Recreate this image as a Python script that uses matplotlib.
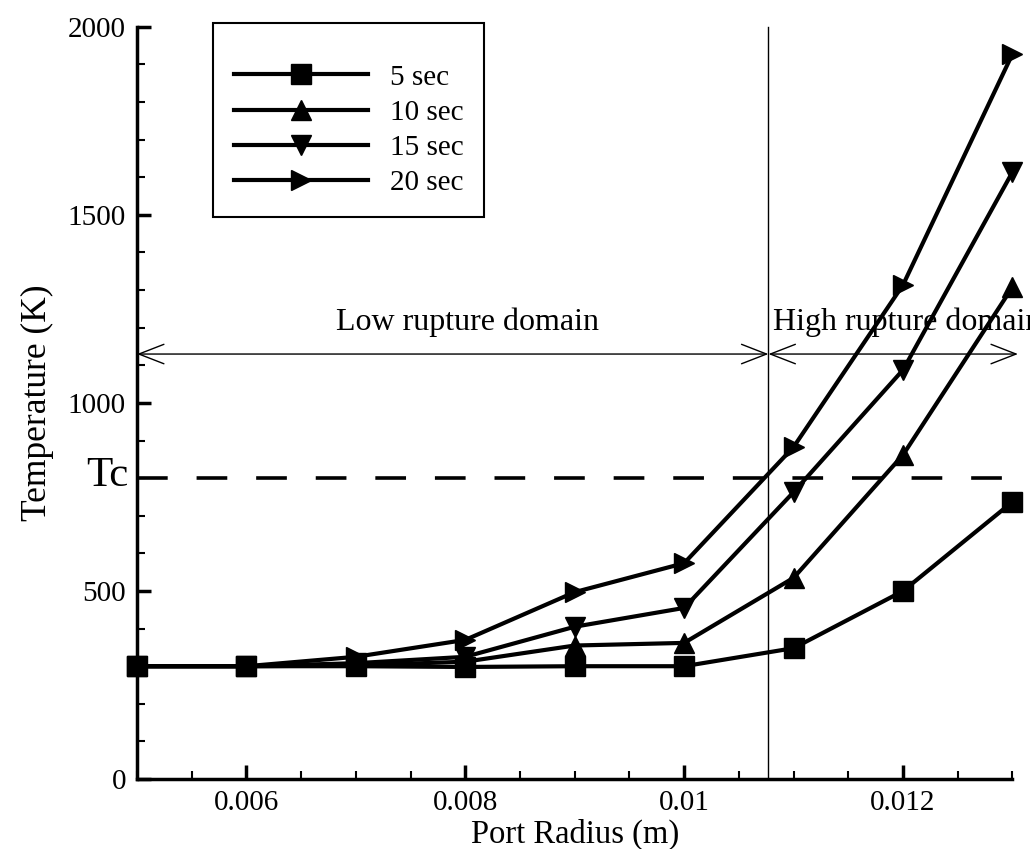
import numpy as np
from matplotlib import pyplot as plt
from matplotlib.ticker import MultipleLocator

plt.rcParams['font.family'] = ['Liberation Serif', 'DejaVu Serif']

# donnees
rayon = [0.005, 0.006, 0.007, 0.008, 0.009, 0.010, 0.011, 0.012, 0.013]
temp_5 = [300, 300, 300, 298, 300, 300, 348, 500, 737]
temp_10 = [300, 300, 302, 312, 355, 362, 535, 862, 1308]
temp_15 = [300, 300, 308, 325, 405, 455, 763, 1088, 1614]
temp_20 = [300, 300, 325, 370, 497, 574, 883, 1314, 1928]
series = [("5 sec", temp_5, "s"), ("10 sec", temp_10, "^"),
          ("15 sec", temp_15, "v"), ("20 sec", temp_20, ">")]

Tc = 800
limite = 0.01077
y_fleche = 1130

fig = plt.figure(figsize=(10.3, 8.49), dpi=100)
ax = fig.add_axes([0.133, 0.0824, 0.850, 0.886])

for nom, valeurs, marq in series:
    ax.plot(rayon, valeurs, color="black", lw=3, marker=marq, markersize=15,
            label=nom, clip_on=False, zorder=3)

ax.plot([0.005, 0.013], [Tc, Tc], color="black", lw=2.6, ls=(0, (8.5, 8)),
        clip_on=False)
ax.plot([limite, limite], [0, 2000], color="black", lw=1, clip_on=False)

fleche = dict(arrowstyle="<->,head_length=0.9,head_width=0.35", color="black",
              lw=1, shrinkA=0, shrinkB=0, mutation_scale=20)
ax.annotate("", xy=(0.005, y_fleche), xytext=(limite, y_fleche), arrowprops=fleche,
            annotation_clip=False)
ax.annotate("", xy=(limite, y_fleche), xytext=(0.01305, y_fleche), arrowprops=fleche,
            annotation_clip=False)
ax.text(0.00802, 1215, "Low rupture domain", fontsize=23, ha="center", va="center")
ax.text(limite + 0.00004, 1215, "High rupture domain", fontsize=23, ha="left",
        va="center", clip_on=False)

ax.set_xlim(0.005, 0.013)
ax.set_ylim(0, 2000)
ax.set_xticks([0.006, 0.008, 0.010, 0.012])
ax.set_xticklabels(["0.006", "0.008", "0.01", "0.012"])
ax.xaxis.set_minor_locator(MultipleLocator(0.0005))
ax.set_yticks([0, 500, 1000, 1500, 2000])
ax.yaxis.set_minor_locator(MultipleLocator(100))

# etiquette Tc a gauche de l'axe
ax.annotate("Tc", xy=(0, Tc), xycoords=("axes fraction", "data"),
            xytext=(-6, 2), textcoords="offset points", fontsize=31,
            ha="right", va="center")

ax.tick_params(which="major", direction="in", length=10, width=2.5, labelsize=21, pad=8)
ax.tick_params(which="minor", direction="in", length=6, width=1.5)
ax.spines["top"].set_visible(False)
ax.spines["right"].set_visible(False)
ax.spines["left"].set_linewidth(2.5)
ax.spines["bottom"].set_linewidth(2.5)

ax.set_xlabel("Port Radius (m)", fontsize=23.5, labelpad=2)
ax.set_ylabel("Temperature (K)", fontsize=25.5, labelpad=10)

leg = ax.legend(loc="upper left", bbox_to_anchor=(0.087, 1.005), fontsize=21,
                handlelength=4.6, handletextpad=0.75, labelspacing=0.3,
                fancybox=False, framealpha=1, borderpad=0.7, borderaxespad=0,
                title=" ", title_fontsize=9)
leg.get_frame().set_edgecolor("black")
leg.get_frame().set_linewidth(1.5)

plt.savefig("out.png", dpi=100)
